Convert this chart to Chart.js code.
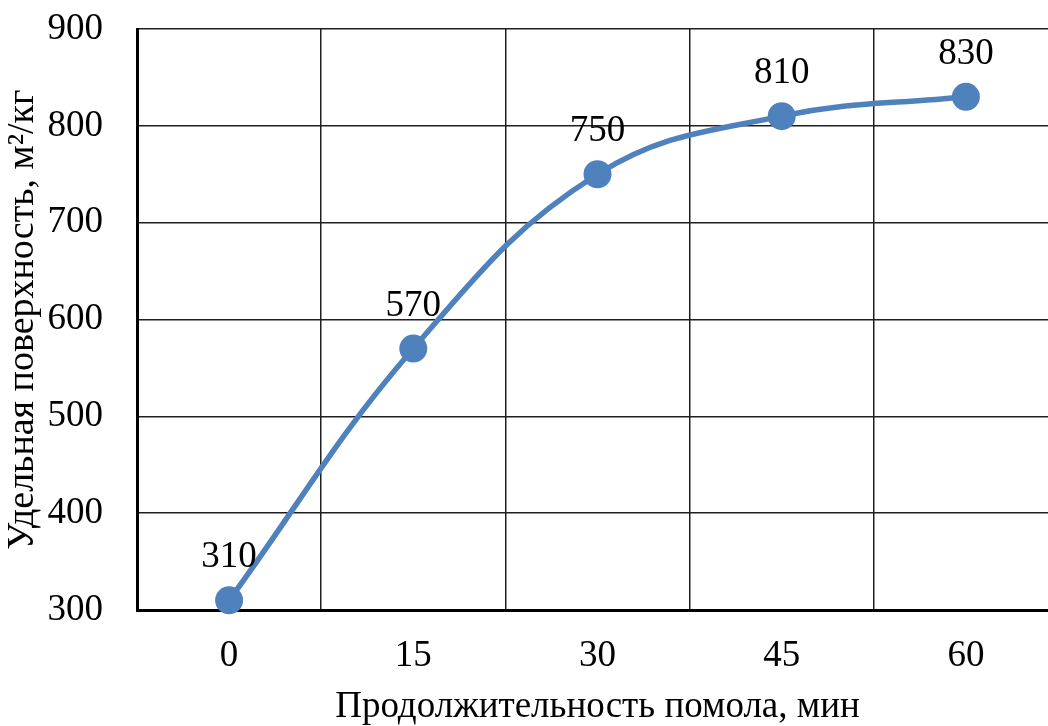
<!DOCTYPE html>
<html>
<head>
<meta charset="utf-8">
<script src="https://cdn.jsdelivr.net/npm/chart.js@4/dist/chart.umd.min.js"></script>
<style>
  html, body { margin: 0; padding: 0; background: #fff; overflow: hidden; width: 1048px; height: 726px; }
  #wrap { width: 1072px; height: 726px; }
</style>
</head>
<body>
<div id="wrap"><canvas id="c" width="1072" height="726" style="width:1072px;height:726px"></canvas></div>
<script>
const categories = ['0', '15', '30', '45', '60'];
const surfaceValues = [310, 570, 750, 810, 830];
const yTicks = [300, 400, 500, 600, 700, 800, 900];
const xTitle = 'Продолжительность помола, мин';
const yTitle = 'Удельная поверхность, м²/кг';

const FONT = '"Liberation Serif", "Times New Roman", serif';

const labelPlugin = {
  id: 'pointLabels',
  afterDatasetsDraw(chart) {
    const ctx = chart.ctx;
    const meta = chart.getDatasetMeta(0);
    ctx.save();
    ctx.font = '37px ' + FONT;
    ctx.fillStyle = '#000';
    ctx.textAlign = 'center';
    ctx.textBaseline = 'alphabetic';
    meta.data.forEach((el, i) => {
      ctx.fillText(String(chart.data.datasets[0].data[i]), el.x, el.y - 33);
    });
    ctx.restore();
  }
};

new Chart(document.getElementById('c'), {
  type: 'line',
  data: {
    labels: categories,
    datasets: [{
      data: surfaceValues,
      borderColor: '#4F81BD',
      backgroundColor: '#4F81BD',
      borderWidth: 5.5,
      pointRadius: 14,
      pointHoverRadius: 14,
      pointBorderWidth: 0,
      tension: 0.4,
      clip: false
    }]
  },
  options: {
    responsive: false,
    animation: false,
    events: [],
    layout: { padding: { top: 29, right: 5, left: 0, bottom: 0 } },
    plugins: { legend: { display: false }, tooltip: { enabled: false } },
    scales: {
      x: {
        type: 'category',
        offset: true,
        grid: { offset: true, color: '#1f1f1f', lineWidth: 1.5, drawTicks: false },
        border: { color: '#000', width: 3 },
        ticks: { font: { family: FONT, size: 37 }, color: '#000', padding: 24, maxRotation: 0 },
        title: { display: true, text: xTitle, font: { family: FONT, size: 37, lineHeight: 1 }, color: '#000', padding: { top: 0, bottom: 0 } },
        afterFit(scale) { scale.height = 116; scale.paddingLeft = 0; scale.paddingRight = 0; }
      },
      y: {
        min: 300,
        max: 900,
        afterBuildTicks(scale) { scale.ticks = yTicks.map(v => ({ value: v })); },
        grid: { color: '#1f1f1f', lineWidth: 1.5, drawTicks: false },
        border: { color: '#000', width: 3 },
        ticks: { font: { family: FONT, size: 37 }, color: '#000', padding: 34 },
        title: { display: true, text: yTitle, font: { family: FONT, size: 38 }, color: '#000', padding: { top: 0, bottom: 0 } },
        afterFit(scale) { scale.width = 137; scale.paddingTop = 0; scale.paddingBottom = 0; }
      }
    }
  },
  plugins: [labelPlugin]
});
</script>
</body>
</html>
